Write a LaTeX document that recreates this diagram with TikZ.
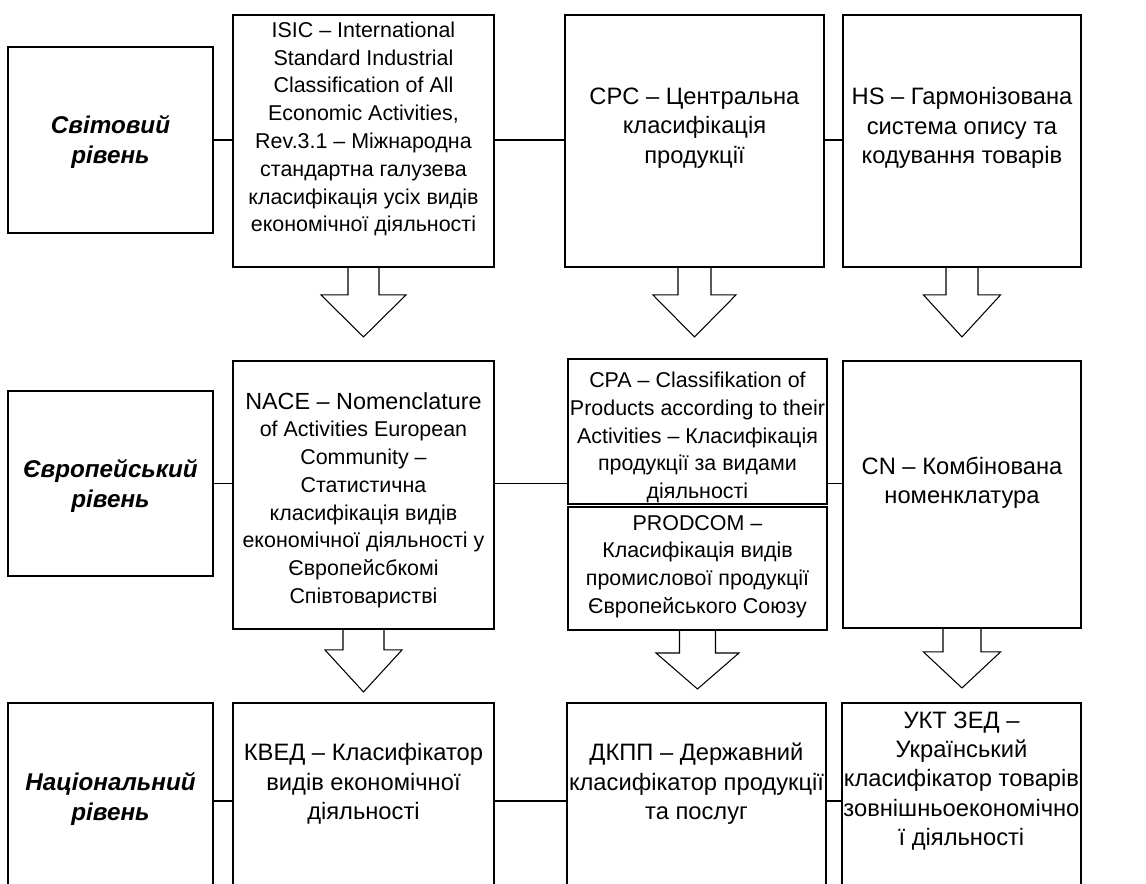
\documentclass[tikz,border=0pt]{standalone}
\usepackage{fontspec}
\setmainfont{Liberation Sans}
\usetikzlibrary{calc}

% block arrow below a box: node, stem half width, head half width, stem length, full length
\newcommand{\blockdown}[5]{%
  \draw[blockline] ($(#1.south)+(-#2,0)$) -- ++(0,#4) -- ($(#1.south)+(-#3,#4)$)
    -- ($(#1.south)+(0,#5)$) -- ($(#1.south)+(#3,#4)$) -- ($(#1.south)+(#2,#4)$) -- ++(0,-#4);
}

\begin{document}
\begin{tikzpicture}[x=0.02cm,y=-0.02cm,
  box/.style={draw,line width=1.1pt,anchor=north west,inner sep=0pt,outer sep=0pt},
  txt/.style={align=center,inner sep=0pt,font=\fontsize{12.2}{15.8}\selectfont},
  bigtxt/.style={align=center,inner sep=0pt,font=\fontsize{13.5}{16.7}\selectfont},
  level/.style={align=center,inner sep=0pt,font=\fontsize{13.8}{17.1}\selectfont\bfseries\itshape},
  link/.style={line width=1.1pt},
  blockline/.style={line width=0.6pt,line join=miter}]
  \useasboundingbox (0,0) rectangle (1146,883);
  \clip (0,0) rectangle (1146,883);
  % World level
  \node[box,minimum width=4.10cm,minimum height=3.72cm] (world) at (8,47) {};
  \node[box,minimum width=5.22cm,minimum height=5.04cm] (isic) at (233,15) {};
  \node[box,minimum width=5.18cm,minimum height=5.04cm] (cpc) at (565,15) {};
  \node[box,minimum width=4.76cm,minimum height=5.04cm] (hs) at (843,15) {};
  \node[level] (world-t) at ($(world.center)+(0,2)$) {Світовий\\рівень};
  \node[txt] (isic-t) at ($(isic.center)+(0,-12)$) {ISIC – International\\Standard Industrial\\Classification of All\\Economic Activities,\\Rev.3.1 – Міжнародна\\стандартна галузева\\класифікація усіх видів\\економічної діяльності};
  \node[bigtxt] (cpc-t) at ($(cpc.center)+(0,-13)$) {CPC – Центральна\\класифікація\\продукції};
  \node[bigtxt] (hs-t) at ($(hs.center)+(0,-13)$) {HS – Гармонізована\\система опису та\\кодування товарів};
  \draw[link] (world.east) -- (world.east -| isic.west);
  \draw[link] (isic.east |- world.east) -- (cpc.west |- world.east);
  \draw[link] (cpc.east |- world.east) -- (hs.west |- world.east);
  \blockdown{isic}{15.5}{42.5}{28}{70}
  \blockdown{cpc}{16.5}{41.5}{28}{70}
  \blockdown{hs}{16}{38.5}{28}{70}
  % European level
  \node[box,minimum width=4.10cm,minimum height=3.70cm] (europe) at (8,391) {};
  \node[box,minimum width=5.22cm,minimum height=5.36cm] (nace) at (233,361) {};
  \node[box,minimum width=5.18cm,minimum height=2.90cm] (cpa) at (568,359) {};
  \node[box,minimum width=5.18cm,minimum height=2.46cm] (prodcom) at (568,507) {};
  \node[box,minimum width=4.76cm,minimum height=5.34cm] (cn) at (843,361) {};
  \node[level] (europe-t) at ($(europe.center)+(0,2)$) {Європейський\\рівень};
  \node[txt] (nace-t) at ($(nace.center)+(0,5)$) {{\fontsize{13.3}{15.8}\selectfont NACE – Nomenclature}\\of Activities European\\Community –\\Статистична\\класифікація видів\\економічної діяльності у\\Європейсбкомі\\Співтоваристві};
  \node[txt] (cpa-t) at ($(cpa.center)+(0,6)$) {CPA – Classifikation of\\Products according to their\\Activities – Класифікація\\продукції за видами\\діяльності};
  \node[txt] (prodcom-t) at ($(prodcom.center)+(0,-2)$) {PRODCOM –\\Класифікація видів\\промислової продукції\\Європейського Союзу};
  \node[bigtxt] (cn-t) at ($(cn.center)+(0,-12)$) {CN – Комбінована\\номенклатура};
  \draw[link] (europe.east) -- (europe.east -| nace.west);
  \draw[link] (nace.east |- europe.east) -- (cpa.west |- europe.east);
  \draw[link] (cpa.east |- europe.east) -- (cn.west |- europe.east);
  \blockdown{nace}{20.5}{38.5}{21}{63}
  \blockdown{prodcom}{18}{41.5}{23}{59}
  \blockdown{cn}{19}{38.5}{24}{60}
  % National level
  \node[box,minimum width=4.10cm,minimum height=3.92cm] (nation) at (8,703) {};
  \node[box,minimum width=5.22cm,minimum height=3.92cm] (kved) at (233,703) {};
  \node[box,minimum width=5.18cm,minimum height=3.92cm] (dkpp) at (567,703) {};
  \node[box,minimum width=4.78cm,minimum height=3.92cm] (ukt) at (842,703) {};
  \node[level] (nation-t) at ($(nation.center)+(0,-2)$) {Національний\\рівень};
  \node[bigtxt] (kved-t) at ($(kved.center)+(0,-17)$) {КВЕД – Класифікатор\\видів економічної\\діяльності};
  \node[bigtxt] (dkpp-t) at ($(dkpp.center)+(0,-17)$) {ДКПП – Державний\\класифікатор продукції\\та послуг};
  \node[bigtxt] (ukt-t) at ($(ukt.center)+(0,-20)$) {УКТ ЗЕД –\\Український\\класифікатор товарів\\зовнішньоекономічно\\ї діяльності};
  \draw[link] (nation.east) -- (nation.east -| kved.west);
  \draw[link] (kved.east |- nation.east) -- (dkpp.west |- nation.east);
  \draw[link] (dkpp.east |- nation.east) -- (ukt.west |- nation.east);
\end{tikzpicture}
\end{document}
